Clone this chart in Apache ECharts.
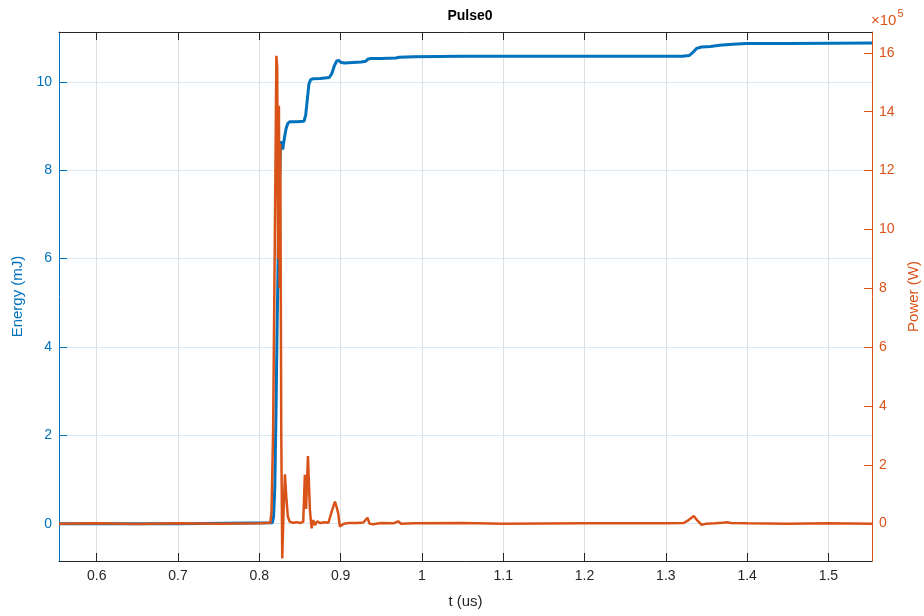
<!DOCTYPE html>
<html lang="en">
<head>
    <meta charset="UTF-8">
    <title>Pulse0</title>
    <script type="text/javascript" src="https://cdn.jsdelivr.net/npm/echarts@6/dist/echarts.min.js"></script>
    <style>
        html, body { margin: 0; padding: 0; background: #fff; }
        #chart { width: 924px; height: 616px; }
    </style>
</head>
<body>
<div id="chart"></div>
<script type="text/javascript">
    // energy trace (mJ)
    var tEnergy = [0.5536, 0.70, 0.816, 0.8175, 0.819, 0.8205, 0.822, 0.8235, 0.825, 0.8262, 0.8272, 0.8287, 0.8298,
        0.831, 0.833, 0.835, 0.8376, 0.846, 0.855, 0.857, 0.859, 0.861, 0.863, 0.866, 0.875, 0.886, 0.889, 0.892,
        0.895, 0.8975, 0.9005, 0.905, 0.915, 0.925, 0.931, 0.934, 0.937, 0.95, 0.968, 0.972, 0.99, 1.05, 1.2, 1.32,
        1.329, 1.334, 1.338, 1.3438, 1.355, 1.366, 1.382, 1.399, 1.45, 1.5536];
    var energy = [0, 0, 0.02, 0.15, 0.8, 2.5, 4.6, 6.4, 7.8, 8.6, 8.65, 8.47, 8.5,
        8.75, 8.95, 9.06, 9.1, 9.1, 9.11, 9.25, 9.6, 9.95, 10.05, 10.07, 10.08, 10.1, 10.18, 10.35,
        10.47, 10.49, 10.44, 10.43, 10.44, 10.45, 10.47, 10.52, 10.53, 10.53, 10.54, 10.56, 10.57, 10.58, 10.58, 10.58,
        10.6, 10.68, 10.76, 10.79, 10.8, 10.83, 10.85, 10.87, 10.87, 10.88];

    // power trace (x 10^5 W)
    var tPower = [0.5536, 0.60, 0.65, 0.70, 0.75, 0.80, 0.8135, 0.815, 0.817, 0.819, 0.8210, 0.8220, 0.8230,
        0.8241, 0.8250, 0.8258, 0.8270, 0.8282, 0.8298, 0.8315, 0.8332, 0.835, 0.8375, 0.842, 0.846, 0.850, 0.854,
        0.8560, 0.8575, 0.8598, 0.8622, 0.8643, 0.8663, 0.8684, 0.8712, 0.875, 0.880, 0.885, 0.8889, 0.893, 0.895,
        0.897, 0.8991, 0.9012, 0.904, 0.91, 0.92, 0.928, 0.933, 0.9355, 0.94, 0.95, 0.965, 0.9708, 0.974, 0.99,
        1.05, 1.1, 1.2, 1.3, 1.322, 1.328, 1.3344, 1.339, 1.344, 1.35, 1.36, 1.37, 1.375, 1.38, 1.4, 1.45, 1.5, 1.5536];
    var power = [0, 0.01, -0.01, 0.01, 0, 0.01, 0.03, 0.4, 3.2, 9.5, 15.9, 15.5, 9.0,
        14.2, 8.0, 12.9, 3.0, -1.18, 0.4, 1.68, 0.9, 0.25, 0.06, 0.03, 0.05, 0.02, 0.06,
        1.66, 0.5, 2.3, 0.47, -0.16, 0.12, -0.05, 0.08, 0.02, 0.05, 0.03, 0.4, 0.75, 0.58,
        0.35, -0.1, -0.15, 0.0, 0.02, 0.02, 0.04, 0.2, 0.0, -0.02, 0.02, 0.01, 0.08, 0.0, 0.01,
        0.02, 0.0, 0.01, 0.01, 0.02, 0.12, 0.26, 0.1, -0.04, 0.0, 0.01, 0.03, 0.05, 0.02, 0.01, 0.0, 0.01, 0.0];

    var xTicks = [0.6, 0.7, 0.8, 0.9, 1.0, 1.1, 1.2, 1.3, 1.4, 1.5];
    var energyTicks = [0, 2, 4, 6, 8, 10];
    var powerTicks = [0, 2, 4, 6, 8, 10, 12, 14, 16];

    function zip(a, b) {
        var out = [];
        for (var i = 0; i < a.length; i++) out.push([a[i], b[i]]);
        return out;
    }

    var FONT = 'Liberation Sans, Arial, sans-serif';
    var BLUE = '#0072BD';
    var ORANGE = '#D95319';
    var DARK = '#262626';

    var myChart = echarts.init(document.getElementById('chart'), null, {renderer: 'canvas'});
    var option = {
        animation: false,
        backgroundColor: '#fff',
        title: {
            text: 'Pulse0',
            left: 465, top: 4, textAlign: 'center',
            textStyle: {fontFamily: FONT, fontSize: 14, fontWeight: 'bold', color: '#000'}
        },
        grid: {left: 59, right: 52, top: 32, bottom: 55, containLabel: false, outerBoundsMode: 'none'},
        xAxis: [{
            type: 'value', min: 0.5536, max: 1.5536, position: 'bottom',
            name: 't (us)', nameLocation: 'middle', nameGap: 33,
            nameTextStyle: {fontFamily: FONT, fontSize: 15, color: DARK},
            axisLine: {show: true, onZero: false, lineStyle: {color: DARK, width: 1}},
            axisTick: {show: true, inside: true, length: 8, customValues: xTicks, lineStyle: {color: DARK}},
            axisLabel: {customValues: xTicks, margin: 8, fontFamily: FONT, fontSize: 14, color: DARK,
                formatter: function (v) { return String(+v.toFixed(1)); }},
            splitLine: {show: true, lineStyle: {color: '#dfdfdf', width: 1}}
        }, {
            type: 'value', min: 0.5536, max: 1.5536, position: 'top',
            axisLine: {show: true, onZero: false, lineStyle: {color: DARK, width: 1}},
            axisTick: {show: true, inside: true, length: 8, customValues: xTicks, lineStyle: {color: DARK}},
            axisLabel: {show: false},
            splitLine: {show: false}
        }],
        yAxis: [{
            type: 'value', min: -0.845, max: 11.13, position: 'left',
            name: 'Energy (mJ)', nameLocation: 'middle', nameGap: 29, nameRotate: 90,
            nameTextStyle: {fontFamily: FONT, fontSize: 15, color: BLUE},
            axisLine: {show: true, onZero: false, lineStyle: {color: BLUE, width: 1}},
            axisTick: {show: true, inside: true, length: 8, customValues: energyTicks, lineStyle: {color: BLUE}},
            axisLabel: {customValues: energyTicks, margin: 7, fontFamily: FONT, fontSize: 14, color: BLUE},
            splitLine: {show: true, lineStyle: {color: '#dbe9f4', width: 1}}
        }, {
            type: 'value', min: -1.27, max: 16.71, position: 'right',
            name: 'Power (W)', nameLocation: 'middle', nameGap: 34, nameRotate: 90,
            nameTextStyle: {fontFamily: FONT, fontSize: 15, color: ORANGE},
            axisLine: {show: true, onZero: false, lineStyle: {color: ORANGE, width: 1}},
            axisTick: {show: true, inside: true, length: 8, customValues: powerTicks, lineStyle: {color: ORANGE}},
            axisLabel: {customValues: powerTicks, margin: 7, fontFamily: FONT, fontSize: 14, color: ORANGE},
            splitLine: {show: false}
        }],
        graphic: [{
            type: 'text', left: 871, top: 8,
            style: {
                text: '{a|×10}{b|5}',
                rich: {
                    a: {fontFamily: FONT, fontSize: 15, fill: ORANGE, verticalAlign: 'bottom', lineHeight: 20},
                    b: {fontFamily: FONT, fontSize: 11, fill: ORANGE, verticalAlign: 'top', lineHeight: 20, padding: [0, 0, 8, 1]}
                }
            }
        }],
        series: [{
            name: 'Energy', type: 'line', xAxisIndex: 0, yAxisIndex: 0,
            data: zip(tEnergy, energy), showSymbol: false, smooth: false,
            lineStyle: {color: BLUE, width: 3}, z: 2
        }, {
            name: 'Power', type: 'line', xAxisIndex: 0, yAxisIndex: 1,
            data: zip(tPower, power), showSymbol: false, smooth: false,
            lineStyle: {color: ORANGE, width: 2.5}, z: 3
        }]
    };
    myChart.setOption(option);
</script>
</body>
</html>
